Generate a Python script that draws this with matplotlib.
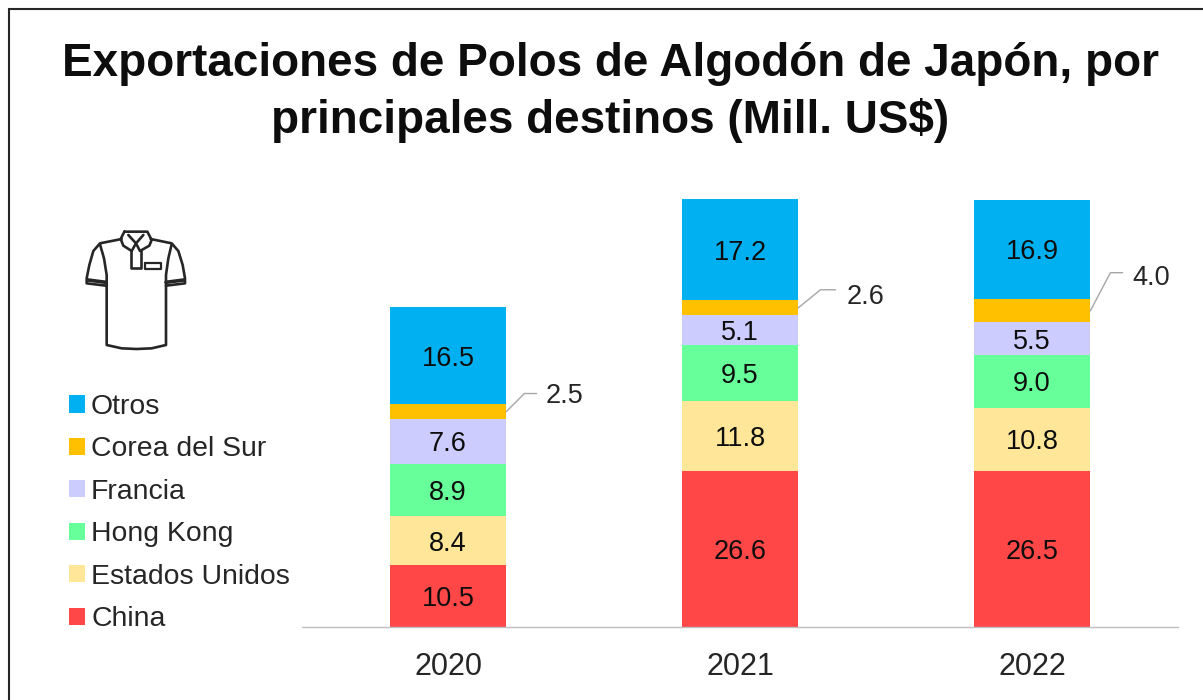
import matplotlib
matplotlib.use("Agg")
import matplotlib.pyplot as plt
from matplotlib.lines import Line2D
from matplotlib.patches import Patch, Rectangle, PathPatch
from matplotlib.path import Path
from matplotlib.transforms import IdentityTransform

plt.rcParams['font.family'] = ['Liberation Sans', 'DejaVu Sans']

years = ['2020', '2021', '2022']
china = [10.5, 26.6, 26.5]
estados_unidos = [8.4, 11.8, 10.8]
hong_kong = [8.9, 9.5, 9.0]
francia = [7.6, 5.1, 5.5]
corea = [2.5, 2.6, 4.0]
otros = [16.5, 17.2, 16.9]
series_names = ['China', 'Estados Unidos', 'Hong Kong', 'Francia', 'Corea del Sur', 'Otros']
series_values = [china, estados_unidos, hong_kong, francia, corea, otros]
series_colors = ['#FF4747', '#FFE699', '#66FF99', '#CCCCFF', '#FFC000', '#00B0F0']
title = 'Exportaciones de Polos de Algodón de Japón, por\nprincipales destinos (Mill. US$)'

W, H = 1203, 700
fig = plt.figure(figsize=(W / 100, H / 100), dpi=100, facecolor='white')
ident = IdentityTransform()


def fy(y):
    return H - y


# outer frame
fig.add_artist(Rectangle((8.5, fy(760)), 1300, 751, fill=False, edgecolor='#262626',
                         linewidth=1.5, transform=ident))

ax = fig.add_axes([302 / W, fy(627) / H, 876 / W, 428 / H])
ax.set_facecolor('none')
x = range(len(years))
bottom = [0.0] * len(years)
for name, vals, col in zip(series_names, series_values, series_colors):
    ax.bar(x, vals, bottom=bottom, width=0.397, color=col, label=name, linewidth=0)
    for i, v in enumerate(vals):
        yc = bottom[i] + v / 2
        if name != 'Corea del Sur':
            ax.text(i, yc, f'{v:.1f}', ha='center', va='center_baseline',
                    fontsize=19.5, color='#0D0D0D')
    bottom = [b + v for b, v in zip(bottom, vals)]

ax.set_xlim(-0.5, 2.5)
ax.set_ylim(0, 72.8)
ax.set_yticks([])
for s in ['top', 'left', 'right']:
    ax.spines[s].set_visible(False)
ax.spines['bottom'].set_color('#BFBFBF')
ax.spines['bottom'].set_linewidth(1.0)
ax.set_xticks(list(x))
ax.set_xticklabels(years, fontsize=22, color='#262626')
ax.tick_params(axis='x', length=0, pad=18)

# leader lines and outside labels for Corea del Sur
leader_offsets = [((18, -18), (30, -18)), ((22, -18), (37, -18)), ((20, -38), (32, -38))]
label_offsets = [(58, -19), (67, -14), (61, -36)]
base = [sum(s[i] for s in series_values[:4]) for i in range(3)]
fig.canvas.draw()
for i, v in enumerate(corea):
    px, py = ax.transData.transform((i + 0.2, base[i] + v / 2))
    (a, b), (c, d) = leader_offsets[i]
    ax.add_artist(Line2D([px, px + a, px + c], [py, py - b, py - d], color='#A6A6A6',
                         linewidth=1.0, transform=ident))
    lx, ly = label_offsets[i]
    ax.text(px + lx, py - ly, f'{v:.1f}', ha='center', va='center_baseline', fontsize=19.5,
            color='#262626', transform=ident)

# title
fig.text(610 / W, fy(92.5) / H, title, ha='center', va='center', fontsize=33, fontweight='bold',
         color='#0D0D0D', linespacing=1.33)

# legend
handles = [Patch(facecolor=c, edgecolor='none') for c in series_colors[::-1]]
leg = fig.legend(handles, series_names[::-1], loc='upper left',
                 bbox_to_anchor=(69 / W, fy(394) / H), frameon=False, fontsize=20.4,
                 handlelength=0.56, handleheight=0.56, handletextpad=0.22,
                 labelspacing=0.58, borderpad=0, borderaxespad=0, labelcolor='#262626')


def zp(zx, zy):
    return (60 + zx / 3, fy(215 + zy / 3))


def stroke(points, lw=1.9, closed=False, face='none'):
    verts = [zp(*p) for p in points]
    if closed:
        verts.append(verts[0])
    fig.add_artist(PathPatch(Path(verts), fill=face != 'none', facecolor=face,
                             edgecolor='#262626', linewidth=lw, transform=ident,
                             joinstyle='round', capstyle='round'))


# polo shirt icon (decoration)
stroke([(185, 72), (120, 85), (100, 108), (88, 150), (80, 190), (80, 205), (138, 212)])
stroke([(272, 72), (335, 85), (355, 108), (368, 150), (375, 190), (375, 205), (318, 212)])
stroke([(120, 88), (132, 130), (140, 180), (140, 390), (185, 400), (230, 402), (275, 400),
        (318, 390), (318, 180), (325, 130), (335, 88)])
stroke([(84, 195), (138, 202)], lw=2.6)
stroke([(371, 195), (318, 202)], lw=2.6)
stroke([(193, 50), (262, 50), (275, 75), (268, 92), (240, 108), (228, 85), (215, 108),
        (190, 92), (182, 72)], closed=True)
stroke([(205, 60), (228, 85), (250, 60)])
stroke([(212, 108), (212, 160), (242, 160), (242, 108)])
stroke([(255, 145), (303, 145), (303, 162), (255, 162)], closed=True, lw=1.6)

fig.savefig('out.png', dpi=100, facecolor='white')
